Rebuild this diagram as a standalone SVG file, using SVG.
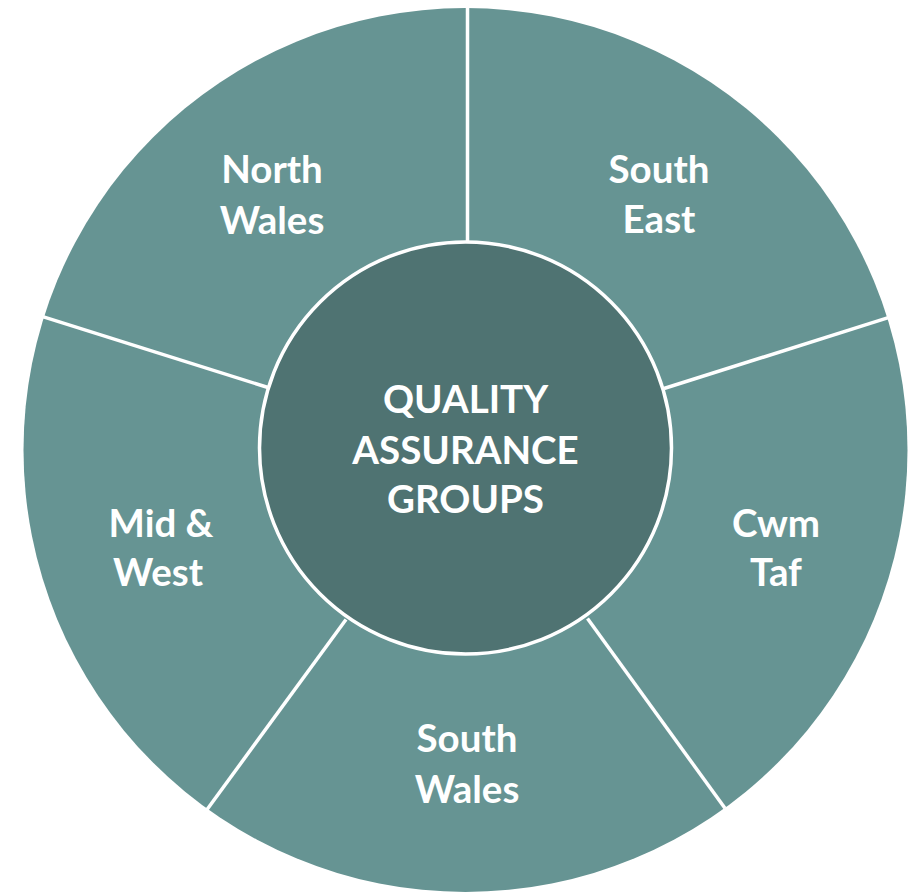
<svg xmlns="http://www.w3.org/2000/svg" width="910" height="893" viewBox="0 0 910 893">
<style>
.seg{fill:#669493;}
.sep{stroke:#ffffff;stroke-width:3.5;fill:none;}
.hub{fill:#4F7372;stroke:#ffffff;stroke-width:3.5;}
.lbl{font-family:Lato,"Open Sans","DejaVu Sans",sans-serif;font-weight:bold;font-size:38.5px;fill:#ffffff;text-anchor:middle;}
</style>
<rect width="910" height="893" fill="#ffffff"/>
<g id="ring">
<circle class="seg" cx="465.5" cy="450" r="442"/>
</g>
<g id="connectors">
<line class="sep" x1="467.5" y1="0" x2="467.5" y2="244"/>
<line class="sep" x1="42.7" y1="316.7" x2="268" y2="387.5"/>
<line class="sep" x1="888.3" y1="317.7" x2="664" y2="388.5"/>
<line class="sep" x1="206.7" y1="810" x2="346" y2="619.5"/>
<line class="sep" x1="725" y1="808.3" x2="587.5" y2="618.5"/>
</g>
<g id="north-wales"><text class="lbl" x="272" y="183">North</text><text class="lbl" x="272" y="234">Wales</text></g>
<g id="south-east"><text class="lbl" x="659" y="183">South</text><text class="lbl" x="659" y="233">East</text></g>
<g id="mid-west"><text class="lbl" x="161" y="537">Mid &amp;</text><text class="lbl" x="158" y="586">West</text></g>
<g id="cwm-taf"><text class="lbl" x="776" y="537">Cwm</text><text class="lbl" x="776" y="586">Taf</text></g>
<g id="south-wales"><text class="lbl" x="467" y="752">South</text><text class="lbl" x="467" y="803">Wales</text></g>
<g id="hub">
<circle class="hub" cx="465.5" cy="448" r="206"/>
<text class="lbl" x="465.5" y="413">QUALITY</text>
<text class="lbl" x="465.5" y="464">ASSURANCE</text>
<text class="lbl" x="465.5" y="513">GROUPS</text>
</g>
</svg>
